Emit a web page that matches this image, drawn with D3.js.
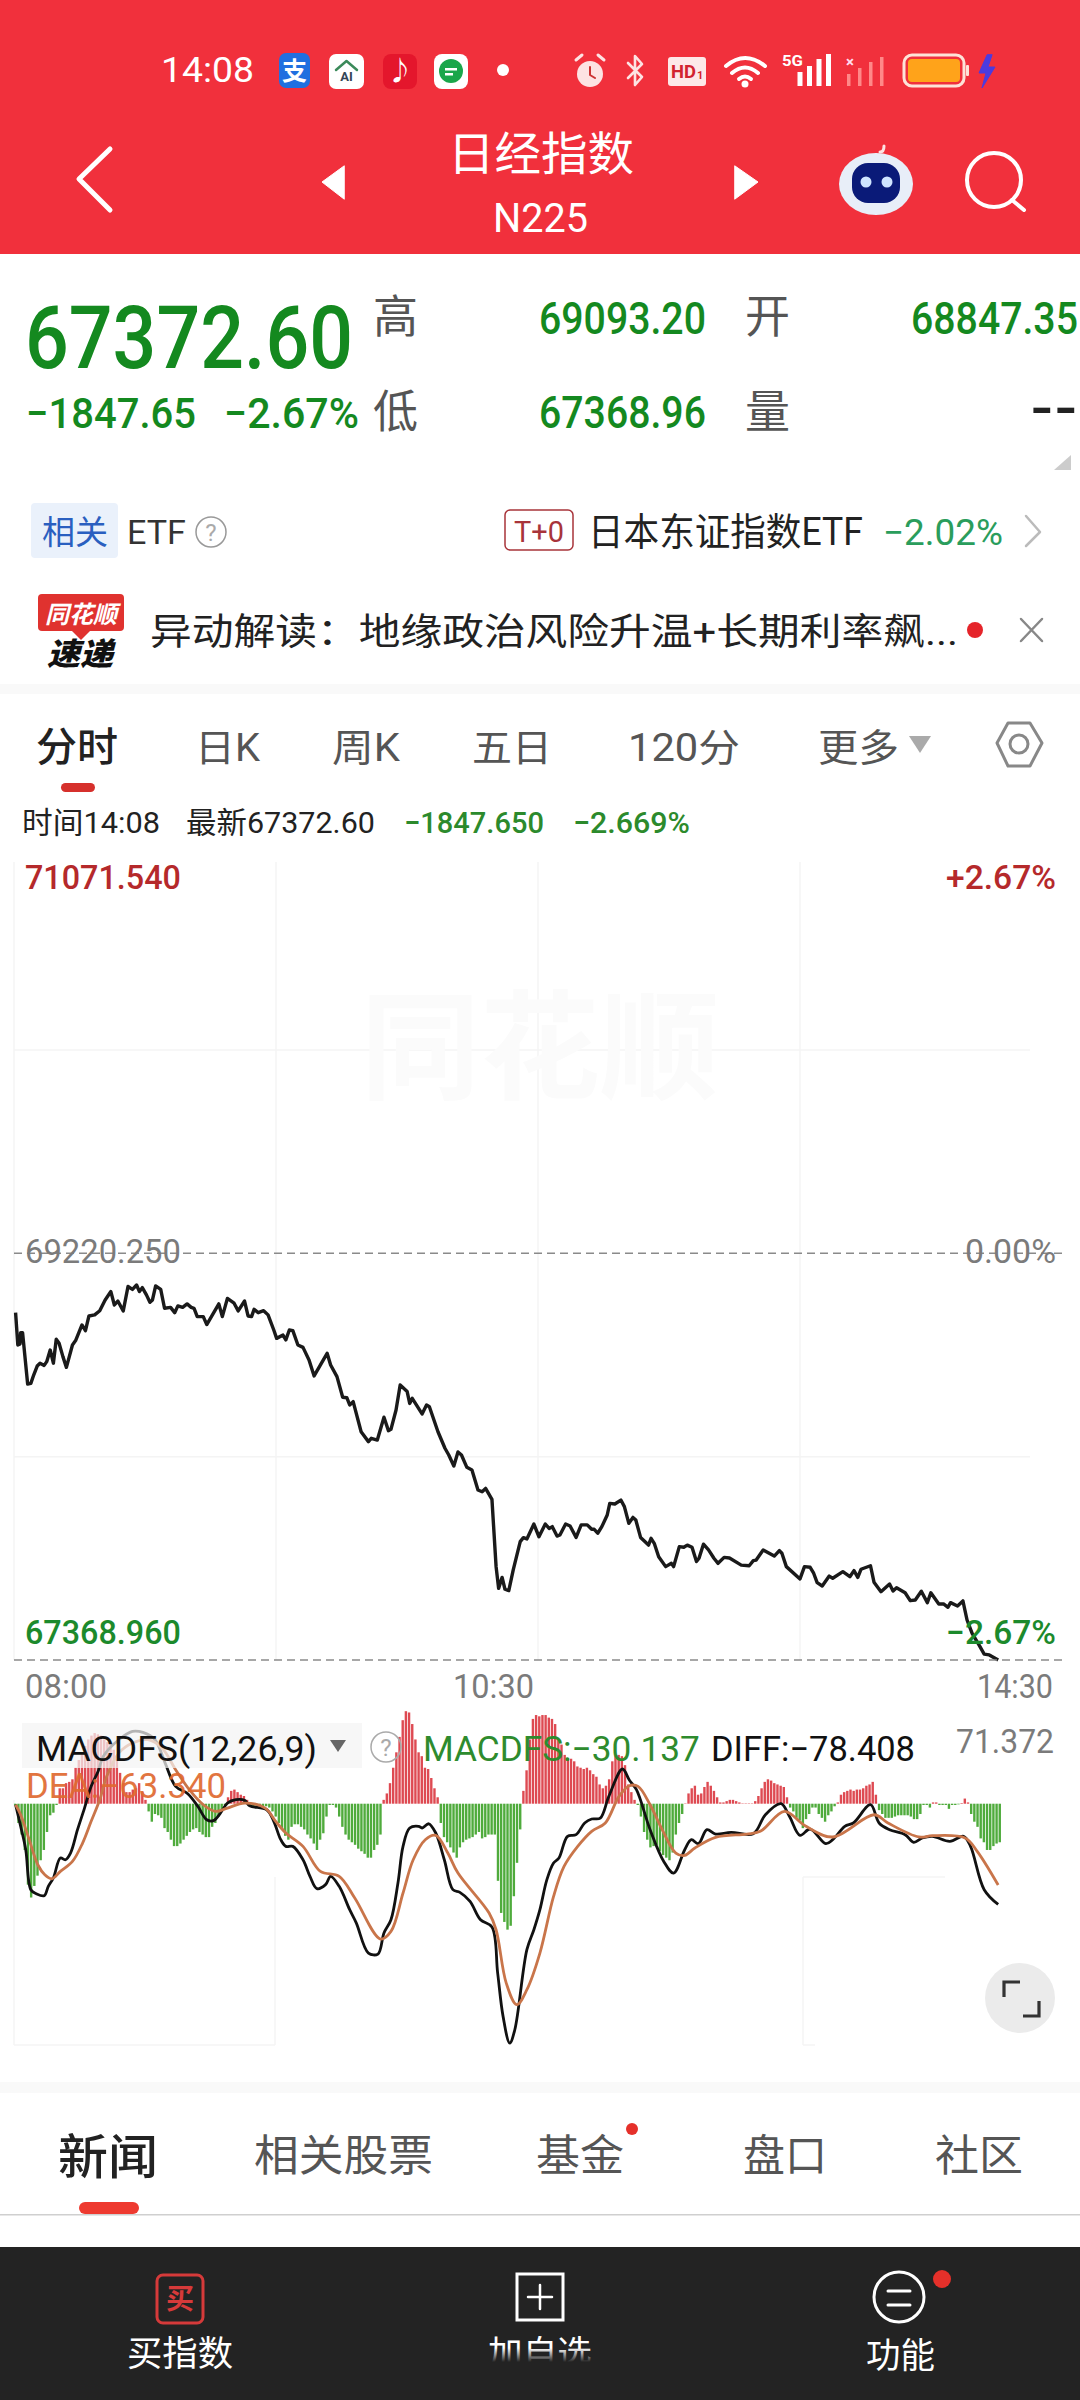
<!DOCTYPE html>
<html><head><meta charset="utf-8">
<script src="https://cdn.jsdelivr.net/npm/d3@7"></script>
<style>html,body{margin:0;padding:0;background:#fff}svg{display:block}text{font-family:Roboto,"Noto Sans CJK SC",sans-serif}</style>
</head><body><svg id="c" width="1080" height="2400" viewBox="0 0 1080 2400"></svg>
<script>
// ---------- data ----------
const priceMinutes=[.5,1.2,1.9,2.1,2.7,3.4,4.3,5.3,6.2,7.3,8.2,9.5,10.3,11.4,12.4,13.3,14.2,15.4,16.5,18.4,19.4,21.4,22.5,23.6,25.4,27,28.7,30.5,31.6,32.7,34.4,35.9,37.3,38.6,39.5,40.4,41.7,42.8,43.6,44.6,46.2,47.4,49.3,50.6,51.6,53.1,54.5,55.8,56.7,57.7,59.6,60.7,62.3,64.5,65.6,67.2,69.3,70.6,72.6,73.7,74.8,75.6,76.9,78.6,80,81.8,82.7,84.7,85.6,86.7,87.8,89.4,91,92.9,94.5,96.5,98.6,99.7,101.7,103.5,104.8,105.7,106.8,109.3,111.6,112.5,114.4,116.5,117.9,118.7,120.3,121.6,123.8,124.6,125.4,128.5,129.9,130.8,133.5,135.7,136.9,138.5,139.8,140.9,142.6,144.2,146.1,147.4,148.5,150.5,151.8,152.6,153.7,154.6,155.8,157.2,159.4,160.4,161.5,163.7,165.3,167.3,168.5,169.5,171,171.9,173.7,175.1,177,178.6,180.5,181.9,182.7,183.8,185.1,186.8,187.6,189.2,191.1,192.2,193.6,194.9,195.8,197.3,199.8,200.6,201.6,203,205.2,207,207.7,209.5,210.9,212,213.5,214.9,215.7,217.1,218.7,220.4,221.7,223.6,225.3,229,231.5,232.8,233.7,235.9,239.4,241,241.8,243.2,247.5,248.9,250.7,251.8,252.9,254.5,256.7,257.8,261,263.2,264.5,265.7,266.7,269.7,270.8,273,275.7,276.8,277.9,280.6,282.2,283.8,285.7,287.6,288.7,291.2,292.7,294.1,294.9,297.1,298.8,300.1,301.7,303.9,305.5,307.1,309.9];
const priceValues=[68950,68803,68808,68859,68859,68757,68625,68628,68666,68707,68720,68710,68727,68780,68720,68829,68811,68750,68701,68803,68823,68894,68868,68935,68940,68959,69008,69046,68985,69003,68958,69069,69056,69076,69046,69064,69031,68997,69008,69072,69056,68970,68974,68950,68981,68974,68990,68974,68970,68932,68932,68896,68935,68990,68932,69015,68993,68958,69003,68935,68932,68965,68950,68959,68940,68871,68833,68848,68826,68871,68868,68803,68792,68735,68662,68712,68765,68712,68659,68565,68563,68530,68545,68408,68363,68378,68370,68474,68413,68419,68507,68621,68591,68537,68560,68489,68530,68522,68408,68333,68302,68252,68316,68302,68246,68234,68143,68135,68150,68100,67794,67695,67745,67691,67685,67779,67908,67926,67920,67988,67930,67988,67968,67976,67933,67938,67988,67979,67927,67984,67984,67964,67964,67946,67976,68029,68082,68079,68097,68067,67991,68018,68006,67927,67892,67923,67900,67839,67794,67809,67794,67885,67882,67892,67882,67817,67832,67896,67870,67832,67809,67836,67833,67801,67798,67821,67824,67870,67842,67867,67855,67794,67738,67794,67791,67764,67721,67706,67751,67741,67771,67748,67776,67745,67782,67798,67723,67680,67715,67683,67698,67675,67639,67642,67682,67630,67675,67624,67624,67609,67630,67615,67638,67551,67490,67437,67396,67392,67369];
const macdBars=[-1,-15,-24,-36,-63,-73,-64,-56,-44,-36,-22,-9,-7,-1,12,12,16,17,19,28,34,40,45,50,53,55,54,53,50,48,46,42,35,24,16,9,9,11,12,16,9,3,-6,-14,-8,-9,-11,-19,-22,-28,-33,-33,-31,-28,-25,-22,-20,-19,-22,-24,-26,-26,-18,-15,-10,-6,-1,5,10,11,9,7,6,3,-1,-2,-2,-2,-2,-2,-3,-6,-10,-15,-20,-25,-28,-18,-16,-16,-18,-20,-24,-27,-31,-36,-28,-23,-10,-1,-1,-3,-10,-18,-24,-28,-30,-32,-35,-37,-39,-42,-42,-36,-32,-24,3,8,16,28,40,52,65,72,71,62,50,40,37,28,27,20,12,5,-15,-26,-30,-34,-38,-42,-34,-30,-28,-27,-26,-24,-22,-27,-26,-24,-24,-24,-60,-85,-92,-98,-95,-72,-46,-20,10,26,50,66,69,68,69,69,67,66,62,50,46,38,35,35,33,29,28,27,28,26,23,21,15,12,14,19,33,38,38,37,30,15,9,3,-1,-10,-22,-28,-34,-33,-32,-37,-40,-42,-44,-38,-24,-15,-8,.3,8,12,14,7,8,13,17,14,10,5,1,1,2,3,3,2,1,.3,.3,.3,.3,2,6,12,17,19,18,16,15,14,13,5,-3,-6,-11,-13,-19,-12,-8,-3,-3,-8,-11,-14,-9,-6,-2,1,7,9,10,11,10,11,11,12,14,15,17,7,-5,-8,-11,-11,-11,-10,-9,-9,-9,-9,-10,-12,-12,-8,-1,-1,-3,1,1,-1,-1,-1,-4,-1,-1,-.5,.5,4,1,-8,-14,-18,-27,-30,-36,-36,-33,-31,-30];
const diffMinutes=[.5,2.1,3.7,5.3,7,9.5,10.8,12.4,14.6,16.2,17.8,20,22.2,24.3,26.5,28.1,33,37.3,40.6,44.4,47.6,50.9,54.7,57.9,60.7,62.8,65,67.2,69.9,72.6,74.2,79.6,81.8,84,85.6,87.8,91,93.2,95.4,98.1,99.7,102.4,105.7,107.8,111.6,114.6,116.5,118.7,120.9,122.5,124.6,127.4,128.5,130.6,132.8,135.5,138.2,140.4,143.6,146.9,150.5,152.3,154,156.1,157.7,161.5,163.7,165.6,167.8,169.9,171.6,174.3,177,179.7,181.9,184.6,187.3,191.6,193.8,196,200.3,204.6,207.7,211.2,213.3,215.5,218.2,220.9,225.8,232.8,236.6,241.5,244.2,247.5,250.7,255.6,257.8,261.6,264.3,269.7,272.4,275.7,280.6,283.3,286,289.2,294.7,299,301.2,305.5,309.9];
const diffValues=[-.8,-17.6,-35.8,-66.9,-70,-71.6,-64.3,-57.8,-42.3,-43.6,-38.4,-20.2,-3.4,13.5,25.2,36.8,49.8,56.3,55.5,49.8,31.6,13.5,7.8,-2.1,-12.5,-13.2,-7.3,.5,3.1,2.6,-1.6,-4.7,-13.7,-28,-33.2,-33.2,-43.6,-56.5,-66.1,-63,-56.5,-64.3,-82.5,-92.9,-116.2,-117,-100.6,-90.3,-61.7,-33.2,-18.9,-17.6,-18.9,-15.6,-22.8,-43.6,-66.9,-69,-76,-90.3,-96,-131.8,-165.5,-186.3,-175.9,-113.6,-98.1,-82.5,-59.1,-46.2,-42.3,-25.4,-24.1,-15,-11.9,-11.2,5.7,27,18.2,10.9,-20.2,-44.9,-54,-35.8,-28,-31.1,-20.2,-23.6,-22.3,-23.3,-8.6,0,-9.9,-24.6,-19.7,-31.1,-28,-17.6,-15,-.8,-15,-20.2,-24.1,-30.1,-26.7,-25.4,-29.3,-25.4,-33.2,-66.9,-78.4];
const deaMinutes=[.5,2.1,4.8,7.5,9.7,11.9,14.6,18.4,21.6,24.3,27,29.2,33,37.3,42.2,46.6,50.9,55.2,59.6,63.4,67.2,72.6,79.1,82.4,85.6,91,96.5,102.4,107.3,115.4,118.7,122.5,125.7,129.5,132.8,136.6,139.8,149.6,151.8,155,158.3,161.5,165.6,169.9,173.2,177.5,181.9,186.2,190.5,193.8,196.5,200.3,204.1,208.4,211.2,214.4,220.9,230.7,235,242.6,249.1,257.8,270.8,275.2,284.9,289.2,299.5,303.3,309.9];
const deaValues=[-.8,-8.6,-28,-47.5,-55.3,-58.4,-52.7,-44.9,-30.6,-13.7,3.1,21.3,39.4,47.2,49.8,43.3,26.5,10.9,-.8,-6,-3.4,.5,-3.4,-13.7,-22.8,-33.2,-52.7,-56.5,-73.4,-105.3,-99.4,-69.5,-43.6,-28,-24.6,-38.4,-54,-85.1,-98.1,-139.6,-156.4,-144.7,-116.2,-72.1,-48.8,-33.2,-21.5,-15,5.7,14,13.5,-.8,-20.2,-38.4,-40.2,-34.5,-26.2,-23.6,-21.5,-6,-17.1,-25.9,-8.6,-15,-25.9,-24.9,-26.7,-37.1,-63.3];
const timeTicks=[0,150,330];
const timeLabels=["08:00","10:30","14:30"];
const priceTicks=[71071.54,69220.25,67368.96];
const priceLabels=["71071.540","69220.250","67368.960"];
const pctLabels=["+2.67%","0.00%","−2.67%"];
const periodTabs=["分时","日K","周K","五日","120分","更多"];
const newsTabs=["新闻","相关股票","基金","盘口","社区"];

// ---------- helpers ----------
const svg=d3.select("#c");
const GREEN="#14891f",RED="#b5292b",GRAY="#7b7b7b";
// opt.w squeezes a text horizontally to the width it has in the picture
function T(s,x,y,size,fill,opt={}){
  const t=svg.append("text").attr("font-size",size).attr("fill",fill).text(s);
  if(opt.a)t.attr("text-anchor",opt.a);
  if(opt.b)t.attr("font-weight",opt.b);
  if(opt.i)t.attr("font-style","italic");
  const sx=opt.w?opt.w/t.node().getComputedTextLength():1;
  t.attr("transform",`translate(${x},${y}) scale(${sx},1)`);
  return t;
}
function P(d,stroke,sw,fill="none"){return svg.append("path").attr("d",d).attr("stroke",stroke).attr("stroke-width",sw).attr("fill",fill).attr("stroke-linecap","round").attr("stroke-linejoin","round");}
function R(x,y,w,h,fill,rx=0,stroke=null,sw=0){const r=svg.append("rect").attr("x",x).attr("y",y).attr("width",w).attr("height",h).attr("fill",fill).attr("rx",rx);if(stroke)r.attr("stroke",stroke).attr("stroke-width",sw);return r;}
function C(x,y,r,fill,stroke=null,sw=0){const c=svg.append("circle").attr("cx",x).attr("cy",y).attr("r",r).attr("fill",fill);if(stroke)c.attr("stroke",stroke).attr("stroke-width",sw);return c;}

// ---------- header ----------
R(0,0,1080,254,"#f1303c");
T("14:08",161,82,35,"#fff",{w:93});
R(279,53,31,35,"#1f6fe0",7);T("支",294.5,80,25,"#fff",{a:"middle",b:700});
R(329,54,35,35,"#fff",7);P("M336 70L346.5 61L357 70","#3b8a5a",2.5);T("AI",346.5,81,13,"#345",{a:"middle",b:700});
R(383,54,34,35,"#e4162c",8);T("♪",400,80,26,"#fff",{a:"middle"});
R(434,54,34,35,"#fff",8);C(451,71,12,"#1aa64a");R(445,68,12,2.5,"#fff");R(445,73,8,2.5,"#fff");
C(503,70,6,"#fff");
C(590,74,13,"#fde3e3");P("M590 67V75L595 78","#c33",2);P("M576 60L582 55M604 60L598 55","#fde3e3",3);
P("M628 63L642 77L635 85V56L642 64L628 78","#fde3e3",2.6);
R(668,57,38,29,"#fde8e8",3);T("HD",671,78,19,"#d2232f",{b:700,w:25});T("1",697,79,11,"#d2232f",{b:700});
P("M726 66Q745 50 765 66M732 73Q745 62 758 73","#fff",4);P("M739 79Q745 74 751 79","#fff",4);C(745,84,3.5,"#fff");
T("5G",782,66,15,"#fff",{b:700,w:21});
svg.selectAll(".s5").data([8,14,20,27,32]).join("rect").attr("x",(d,i)=>788+i*9.5).attr("y",d=>86-d).attr("width",5).attr("height",d=>d).attr("fill","#fff").attr("opacity",(d,i)=>i==0?0:1);
T("×",850,67,15,"#fde",{a:"middle",b:700});
svg.selectAll(".s6").data([12,18,24,29]).join("rect").attr("x",(d,i)=>847+i*11).attr("y",d=>86-d).attr("width",3.5).attr("height",d=>d).attr("fill","#f88");
R(904,55,60,31,"none",8,"#fde3d8",3);R(908,59,52,23,"#ffa31a",4);R(966,65,3,11,"#fde3d8",1);
P("M987 55L979 73H986L982 88L995 67H988L992 55Z","#4b3be0",1,"#4b3be0");
P("M110 149L79 179L110 210","#fff",5);
P("M344 166L322 182L344 199Z","#fff",1,"#fff");P("M735 166L758 182L735 199Z","#fff",1,"#fff");
T("日经指数",541,170,46,"#fff",{a:"middle",w:186});
T("N225",540.5,232,40,"#fff",{a:"middle",w:95});
P("M880 152Q884 152 884 146","#fde3e3",3);
svg.append("ellipse").attr("cx",876).attr("cy",184).attr("rx",37).attr("ry",31).attr("fill","#e8eef8");
R(852,163,48,40,"#0a1a78",16);
C(866,182,5.5,"#cfe4ff");C(887,182,5.5,"#cfe4ff");
C(994,180,27,"none","#fff",4);P("M1012 200L1024 210","#fff",4);

// ---------- quote block ----------
T("67372.60",25,368,88,GREEN,{b:500,w:328});
T("高",373,333,45,"#555");T("开",745,333,45,"#555");
T("69093.20",539,334,44,GREEN,{w:167,b:500});T("68847.35",911,334,44,GREEN,{w:167,b:500});
T("−1847.65",26,428,42,GREEN,{w:170,b:500});T("−2.67%",224,428,42,GREEN,{w:135,b:500});
T("低",373,428,45,"#555");
T("67368.96",539,428,44,GREEN,{w:167,b:500});T("量",745,428,45,"#555");
T("--",1030,425,48,"#222",{w:48,b:700});
P("M1054 470H1071V455Z","#ccc",0,"#ccc");
R(31,503,87,55,"#eaf1fb",4);T("相关",42,544,33,"#2a5fc0");
T("ETF",127,544,34,"#333",{w:59});
C(211,532,15,"#fff","#999",1.5);T("?",211,541,24,"#aaa",{a:"middle"});
R(505,510,68,40,"#fff",5,"#a8343a",1.5);T("T+0",539,542,30,"#a8343a",{a:"middle",w:50});
T("日本东证指数ETF",588,545,38,"#222",{w:275});
T("−2.02%",883,545,36,"#2a9d5c",{w:120});
P("M1026 516L1040 532L1026 546","#bbb",2.5);
// news strip
R(38,594,86,37,"#e0322f",4);P("M72 631L81 640L90 631Z","#e0322f",0,"#e0322f");
T("同花顺",81,623,24,"#fff",{a:"middle",b:700,i:1,w:72});
T("速递",80,665,31,"#111",{a:"middle",b:900,i:1,w:66});
T("异动解读：地缘政治风险升温+长期利率飙...",150,645,37,"#222",{w:808});
C(975,630,8,"#e5242a");
P("M1021 619L1042 641M1042 619L1021 641","#888",2.5);
R(0,684,1080,10,"#f9f9f9");

// ---------- period tabs ----------
const tabX=[[36,82],[195,65],[332,68],[472,80],[628,112],[818,81]];
periodTabs.forEach((s,i)=>T(s,tabX[i][0],761,i?38:40,i?"#555":"#222",{w:tabX[i][1],b:i?400:500}));
P("M909 736H931L920 753Z","#aaa",0,"#aaa");
P("M1008 723H1030L1042 743L1030 766H1008L997 743Z","#888",3);C(1019,744,9,"none","#888",3);
R(61,783,34,9,"#d6302c",4.5);
T("时间14:08",22,833,30,"#222",{w:138});T("最新67372.60",186,833,30,"#222",{w:189});
T("−1847.650",404,833,30,"#2c8a2c",{w:140,b:500});T("−2.669%",573,833,30,"#2c8a2c",{w:117,b:500});

// ---------- price chart ----------
const x=d3.scaleLinear().domain([0,330]).range([14,1062]);
const y=d3.scaleLinear().domain([priceTicks[2],priceTicks[0]]).range([1660,846.6]);
const grid=svg.append("g").attr("stroke","#f4f4f4").attr("stroke-width",1.5);
[0,82.5,165,247.5].forEach(m=>grid.append("line").attr("x1",x(m)).attr("x2",x(m)).attr("y1",862).attr("y2",1660));
[.25,.75].forEach(f=>grid.append("line").attr("x1",14).attr("x2",1030).attr("y1",y(priceTicks[2]+f*(priceTicks[0]-priceTicks[2]))).attr("y2",y(priceTicks[2]+f*(priceTicks[0]-priceTicks[2]))));
T("同花顺",540,1090,118,"#fbfbfb",{a:"middle",b:700,w:359});
svg.append("path").datum(priceValues).attr("fill","none").attr("stroke","#1a1a1a").attr("stroke-width",3.4).attr("stroke-linejoin","round")
 .attr("d",d3.line().x((d,i)=>x(priceMinutes[i])).y(d=>y(d)));
[priceTicks[1],priceTicks[2]].forEach(v=>svg.append("line").attr("x1",14).attr("x2",1062).attr("y1",y(v)).attr("y2",y(v)).attr("stroke","#8a8a8a").attr("stroke-width",1.6).attr("stroke-dasharray","8 5"));
const priceCol=[RED,GRAY,"#1c8a2c"],base=[889,1263,1644];
priceLabels.forEach((s,i)=>{T(s,25,base[i],33,priceCol[i],{w:156,b:i==1?400:500});T(pctLabels[i],1056,base[i],33,priceCol[i],{a:"end",w:i==1?91:110,b:i==1?400:500});});
const timeX=[25,453,977],timeW=[82,81,76];
timeTicks.forEach((t,i)=>T(timeLabels[i],timeX[i],1698,33,GRAY,{w:timeW[i]}).attr("data-minute",t));

// ---------- MACD ----------
const my=d3.scaleLinear().domain([-187,71.372]).range([2044,1712]);
const g2=svg.append("g").attr("stroke","#f4f4f4").attr("stroke-width",1.5);
[[14,1800,14,2045],[14,2045,275,2045],[275,1877,275,2045],[803,1877,803,2045],[803,1877,945,1877],[803,2045,815,2045]].forEach(a=>g2.append("line").attr("x1",a[0]).attr("y1",a[1]).attr("x2",a[2]).attr("y2",a[3]));
svg.selectAll(".bar").data(macdBars).join("rect")
 .attr("x",(d,i)=>x(i+.4)-1.2).attr("width",2.4)
 .attr("y",d=>d>0?my(d):my(0)).attr("height",d=>Math.abs(my(d)-my(0)))
 .attr("fill",d=>d>0?"#de4a52":"#4fab3c");
svg.append("path").datum(diffValues).attr("fill","none").attr("stroke","#111").attr("stroke-width",2.8).attr("stroke-linejoin","round")
 .attr("d",d3.line().x((d,i)=>x(diffMinutes[i])).y(d=>my(d)).curve(d3.curveCatmullRom));
svg.append("path").datum(deaValues).attr("fill","none").attr("stroke","#c9754a").attr("stroke-width",2.8).attr("stroke-linejoin","round")
 .attr("d",d3.line().x((d,i)=>x(deaMinutes[i])).y(d=>my(d)).curve(d3.curveCatmullRom));
R(22,1723,340,45,"#f4f4f4").attr("opacity",.72);
T("MACDFS(12,26,9)",36,1761,35,"#111",{w:281});
P("M330 1740H346L338 1752Z","#666",0,"#666");
svg.append("rect").attr("x",386-15).attr("y",1732).attr("width",30).attr("height",30).attr("rx",15).attr("fill","none").attr("stroke","#aaa").attr("stroke-width",1.5);
T("?",386,1756,24,"#aaa",{a:"middle"});
T("MACDFS:−30.137",423,1761,35,"#2e8b2e",{w:277});
T("DIFF:−78.408",711,1761,35,"#111",{w:204});
T("71.372",956,1753,33,GRAY,{w:98});
T("DEA:−63.340",26,1798,35,"#e06a30",{w:200}).attr("opacity",.92);
C(1020,1998,35,"#ebebeb");
P("M1004 1997V1982H1020M1039 2001V2016H1023","#333",3.2).attr("stroke-linecap","butt").attr("stroke-linejoin","miter");

// ---------- lower tabs ----------
R(0,2082,1080,11,"#f9f9f9");
const newsX=[[58,100],[254,179],[536,88],[743,84],[935,88]];
newsTabs.forEach((s,i)=>T(s,newsX[i][0],i?2171:2174,i?43:48,i?"#555":"#222",{w:newsX[i][1],b:i?400:500}));
C(632,2129,6,"#e5302a");
R(0,2214,1080,1.5,"#cfcfcf");
R(79,2202,60,12,"#ee3a30",6);
R(0,2247,1080,153,"#232323");
R(157,2275,46,48,"none",6,"#d63a3a",3);T("买",180,2309,28,"#d63a3a",{a:"middle",b:700});
T("买指数",127,2366,35,"#fff",{w:106});
R(517,2274,46,46,"none",0,"#fff",3);P("M528 2297H552M540 2285V2309","#fff",2.5);
T("加自选",488,2366,35,"#fff",{w:104});
const fade=svg.append("defs").append("linearGradient").attr("id","fd").attr("x1",0).attr("y1",0).attr("x2",0).attr("y2",1);
fade.append("stop").attr("offset",0).attr("stop-color","#232323").attr("stop-opacity",0);
fade.append("stop").attr("offset",1).attr("stop-color","#232323").attr("stop-opacity",1);
R(480,2348,120,14,"url(#fd)");R(480,2362,120,14,"#232323");
C(899,2297,25,"none","#fff",3);P("M888 2291H910M888 2305H910","#fff",3);
C(942,2279,9,"#e5302a");
T("功能",866,2368,35,"#fff",{w:69});
</script></body></html>
